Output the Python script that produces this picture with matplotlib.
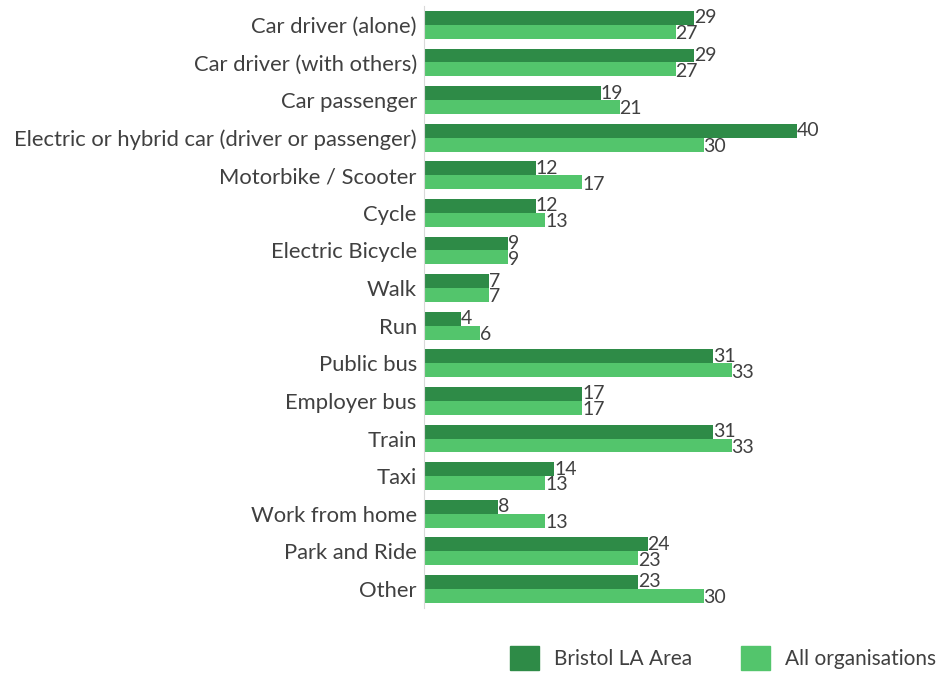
import numpy as np
import matplotlib.pyplot as plt
from matplotlib.patches import Patch

plt.rcParams['font.family'] = ['Lato', 'DejaVu Sans']

categories = ["Car driver (alone)", "Car driver (with others)", "Car passenger",
              "Electric or hybrid car (driver or passenger)", "Motorbike / Scooter",
              "Cycle", "Electric Bicycle", "Walk", "Run", "Public bus", "Employer bus",
              "Train", "Taxi", "Work from home", "Park and Ride", "Other"]
bristol = [29, 29, 19, 40, 12, 12, 9, 7, 4, 31, 17, 31, 14, 8, 24, 23]
all_orgs = [27, 27, 21, 30, 17, 13, 9, 7, 6, 33, 17, 33, 13, 13, 23, 30]

dark = '#2e8b47'
light = '#53c56c'
txt = '#404040'

fig = plt.figure(figsize=(9.5, 6.73), dpi=100)
ax = fig.add_axes([0.446, 0.097, 0.544, 0.894])

y = np.arange(len(categories))
h = 0.37
ax.barh(y - h / 2, bristol, height=h, color=dark, label='Bristol LA Area')
ax.barh(y + h / 2, all_orgs, height=h, color=light, label='All organisations')

for yi, v in zip(y, bristol):
    ax.text(v, yi - h / 2, str(v), va='center', ha='left', fontsize=14, color=txt)
for yi, v in zip(y, all_orgs):
    ax.text(v, yi + h / 2 + 0.05, str(v), va='center', ha='left', fontsize=14, color=txt)

ax.set_yticks(y)
ax.set_yticklabels(categories, fontsize=15.8, color=txt)
ax.set_ylim(len(categories) - 0.5, -0.5)
ax.set_xlim(0, 55.4)
ax.set_xticks([])
ax.tick_params(axis='y', length=0, pad=5)
for s in ['top', 'right', 'bottom']:
    ax.spines[s].set_visible(False)
ax.spines['left'].set_color('#d9d9d9')

handles = [Patch(color=dark), Patch(color=light)]
fig.legend(handles, ['Bristol LA Area', 'All organisations'], loc='center',
           bbox_to_anchor=(0.761, 0.022), ncol=2, frameon=False, fontsize=15,
           labelcolor=txt, handlelength=1.4, handleheight=1.4, columnspacing=2.35,
           handletextpad=0.7)

fig.savefig('out.png', dpi=100)
